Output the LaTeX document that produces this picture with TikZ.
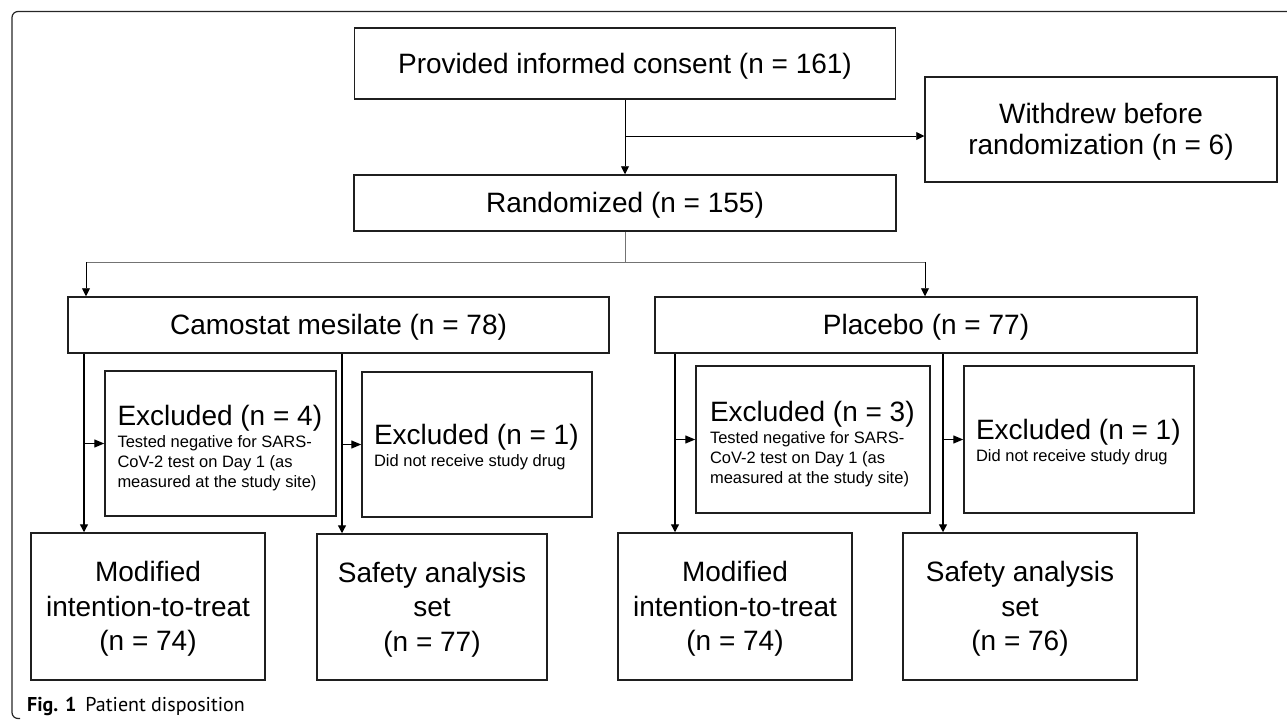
\documentclass[tikz,border=0pt]{standalone}
\usepackage{fontspec}
\setmainfont{Liberation Sans}
\newfontfamily\capfont{PT Sans}
\usetikzlibrary{arrows.meta,calc}
\newcommand\tstr{\rule{0pt}{.905em}}
\newcommand\bstr{\rule[-.212em]{0pt}{0pt}}
\newcommand\exhead[2][.905em]{\spaceskip=0pt\xspaceskip=0pt{\fontsize{28}{30}\selectfont\rule{0pt}{#1}#2}}
\begin{document}
\begin{tikzpicture}[x=1pt,y=-1pt,
  box/.style={draw=black!88, line width=1.5pt, inner sep=0pt, align=center,
              font=\fontsize{28}{34.5}\selectfont},
  exbox/.style={draw=black!88, line width=1.5pt, inner ysep=0pt, inner xsep=12pt,
              text width=206pt, align=left, font=\fontsize{16.5}{20}\selectfont},
  conn/.style={draw=black, line width=1.3pt, -{Triangle[length=8pt,width=8pt]}},
  thin/.style={draw=black, line width=0.9pt, -{Triangle[length=8pt,width=8pt]}},
  small/.style={draw=black, line width=1.3pt, -{Triangle[length=10pt,width=8pt]}},
  stem/.style={draw=black!55, line width=0.9pt},
  frame/.style={draw=black!85, line width=1.2pt, rounded corners=6pt}
]
\useasboundingbox (0,0) rectangle (1287,720);
\draw[frame] (1287,11.5) -- (12,11.5) -- (12,718.5) -- (20,718.5);

% top
\node[box, minimum width=541pt, minimum height=71pt] (consent) at (625,63.5)
  {\tstr Provided informed consent (n = 161)\bstr};
\node[box, minimum width=352pt, minimum height=105pt, font=\fontsize{28}{31}\selectfont]
  (withdrew) at (1101,129.5) {\tstr Withdrew before\\randomization (n = 6)\bstr};
\node[box, minimum width=542pt, minimum height=56pt] (random) at (625,203)
  {\tstr Randomized (n = 155)\bstr};

% arms
\node[box, minimum width=541pt, minimum height=56pt] (camo) at (338.5,325)
  {\tstr Camostat mesilate (n = 78)\bstr};
\node[box, minimum width=542pt, minimum height=56pt] (plac) at (926,325)
  {\tstr Placebo (n = 77)\bstr};

% exclusions
\node[exbox, minimum width=231pt, minimum height=145pt] (ex4) at (220.5,443.5)
  {\exhead[1.08em]{Excluded (n = 4)}\\[2pt]
   Tested negative for SARS-\\CoV-2 test on Day 1 (as\\measured at the study site)\bstr\par};
\node[exbox, minimum width=230pt, minimum height=145pt] (ex1a) at (477,444.5)
  {\exhead{Excluded (n = 1)}\\[2pt]
   Did not receive study drug\bstr\par};
\node[exbox, minimum width=234pt, minimum height=147pt] (ex3) at (813,439.5)
  {\exhead[1.05em]{Excluded (n = 3)}\\[2pt]
   Tested negative for SARS-\\CoV-2 test on Day 1 (as\\measured at the study site)\bstr\par};
\node[exbox, minimum width=230pt, minimum height=147pt] (ex1b) at (1079,439.5)
  {\exhead{Excluded (n = 1)}\\[2pt]
   Did not receive study drug\bstr\par};

% analysis sets
\node[box, minimum width=234pt, minimum height=147pt] (mitt1) at (148,606.5)
  {\tstr Modified\\intention-to-treat\\(n = 74)\bstr};
\node[box, minimum width=230pt, minimum height=146pt] (safe1) at (432,607)
  {\tstr Safety analysis\\set\\(n = 77)\bstr};
\node[box, minimum width=234pt, minimum height=147pt] (mitt2) at (735,606.5)
  {\tstr Modified\\intention-to-treat\\(n = 74)\bstr};
\node[box, minimum width=234pt, minimum height=147pt] (safe2) at (1020,606.5)
  {\tstr Safety analysis\\set\\(n = 76)\bstr};

% caption
\node[anchor=base west, inner sep=0pt, font=\capfont\fontsize{20}{24}\selectfont] (cap) at (27,711.5)
  {\textbf{Fig. 1}\hspace{9pt}Patient disposition};

% connectors top
\draw[thin] (consent.south) -- (random.north);
\coordinate (b1) at (625,136);
\draw[thin] (b1) -- (b1 -| withdrew.west);
\draw[stem] (random.south) -- (625,262) coordinate (b2);
\coordinate (L) at (86,262);
\coordinate (R) at (925,262);
\draw[stem] (L) -- (R);
\draw[thin] (L) -- (L |- camo.north);
\draw[thin] (R) -- (R |- plac.north);

% camostat arm
\coordinate (c1) at (camo.south -| 84,0);
\coordinate (c2) at (camo.south -| 342,0);
\draw[conn] (c1) -- (c1 |- mitt1.north);
\draw[conn] (c2) -- (c2 |- safe1.north);
\draw[small] (ex4.west -| c1) -- (ex4.west);
\draw[small] (ex1a.west -| c2) -- (ex1a.west);

% placebo arm
\coordinate (p1) at (plac.south -| 675,0);
\coordinate (p2) at (plac.south -| 943,0);
\draw[conn] (p1) -- (p1 |- mitt2.north);
\draw[conn] (p2) -- (p2 |- safe2.north);
\draw[small] (ex3.west -| p1) -- (ex3.west);
\draw[small] (ex1b.west -| p2) -- (ex1b.west);
\end{tikzpicture}
\end{document}
